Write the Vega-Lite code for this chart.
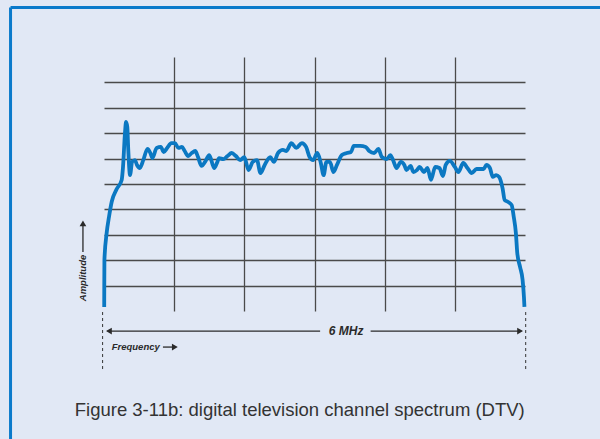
{
  "$schema": "https://vega.github.io/schema/vega-lite/v6.json",
  "autosize": "none",
  "width": 421,
  "height": 254,
  "padding": {"left": 104, "top": 57, "right": 75, "bottom": 128},
  "background": "#e1e8f5",
  "config": {"view": {"stroke": null}, "font": "Liberation Sans"},
  "encoding": {
    "x": {"field": "f", "type": "quantitative", "scale": {"domain": [0, 6], "nice": false, "zero": false},
      "axis": {"values": [1, 2, 3, 4, 5], "grid": true, "gridColor": "#4a4a4a", "gridWidth": 1.3, "labels": false, "ticks": false, "domain": false, "title": null}},
    "y": {"field": "a", "type": "quantitative", "scale": {"domain": [0, 10], "nice": false, "zero": false},
      "axis": {"values": [1, 2, 3, 4, 5, 6, 7, 8, 9], "grid": true, "gridColor": "#4a4a4a", "gridWidth": 1.3, "labels": false, "ticks": false, "domain": false, "title": null}}
  },
  "layer": [
    {
      "data": {"values": [
        {"f": 0.003, "a": 0.16}, {"f": 0.004, "a": 1.02}, {"f": 0.006, "a": 2.01},
        {"f": 0.038, "a": 3.07}, {"f": 0.071, "a": 3.70}, {"f": 0.110, "a": 4.30},
        {"f": 0.181, "a": 4.80}, {"f": 0.252, "a": 5.16}, {"f": 0.271, "a": 5.67},
        {"f": 0.299, "a": 7.01}, {"f": 0.314, "a": 7.44}, {"f": 0.332, "a": 7.24},
        {"f": 0.346, "a": 6.34}, {"f": 0.371, "a": 5.35}, {"f": 0.40, "a": 5.87},
        {"f": 0.44, "a": 5.94}, {"f": 0.47, "a": 5.75}, {"f": 0.51, "a": 5.63},
        {"f": 0.56, "a": 5.94}, {"f": 0.62, "a": 6.38}, {"f": 0.66, "a": 6.22},
        {"f": 0.69, "a": 6.02}, {"f": 0.75, "a": 6.42}, {"f": 0.81, "a": 6.46},
        {"f": 0.85, "a": 6.26}, {"f": 0.90, "a": 6.42}, {"f": 0.96, "a": 6.61},
        {"f": 1.01, "a": 6.61}, {"f": 1.06, "a": 6.42}, {"f": 1.11, "a": 6.46},
        {"f": 1.15, "a": 6.30}, {"f": 1.20, "a": 6.10}, {"f": 1.25, "a": 6.22},
        {"f": 1.30, "a": 6.30}, {"f": 1.34, "a": 6.06}, {"f": 1.39, "a": 5.71},
        {"f": 1.44, "a": 5.87}, {"f": 1.50, "a": 6.14}, {"f": 1.57, "a": 5.63},
        {"f": 1.61, "a": 5.83}, {"f": 1.64, "a": 6.02}, {"f": 1.70, "a": 5.98},
        {"f": 1.76, "a": 6.10}, {"f": 1.82, "a": 6.22}, {"f": 1.88, "a": 6.10},
        {"f": 1.94, "a": 5.94}, {"f": 2.00, "a": 6.06}, {"f": 2.06, "a": 5.55},
        {"f": 2.12, "a": 5.87}, {"f": 2.18, "a": 5.94}, {"f": 2.23, "a": 5.43},
        {"f": 2.29, "a": 5.75}, {"f": 2.37, "a": 6.06}, {"f": 2.42, "a": 5.87},
        {"f": 2.48, "a": 6.22}, {"f": 2.55, "a": 6.34}, {"f": 2.60, "a": 6.30},
        {"f": 2.67, "a": 6.61}, {"f": 2.74, "a": 6.42}, {"f": 2.82, "a": 6.61},
        {"f": 2.88, "a": 6.46}, {"f": 2.93, "a": 6.06}, {"f": 2.98, "a": 5.94},
        {"f": 3.04, "a": 6.22}, {"f": 3.09, "a": 5.83}, {"f": 3.13, "a": 5.35},
        {"f": 3.17, "a": 5.87}, {"f": 3.22, "a": 5.87}, {"f": 3.27, "a": 5.47},
        {"f": 3.32, "a": 5.75}, {"f": 3.39, "a": 6.14}, {"f": 3.46, "a": 6.22},
        {"f": 3.52, "a": 6.26}, {"f": 3.56, "a": 6.50}, {"f": 3.65, "a": 6.50},
        {"f": 3.73, "a": 6.46}, {"f": 3.78, "a": 6.30}, {"f": 3.85, "a": 6.22},
        {"f": 3.91, "a": 6.38}, {"f": 3.96, "a": 6.06}, {"f": 4.03, "a": 5.98},
        {"f": 4.08, "a": 6.14}, {"f": 4.12, "a": 5.94}, {"f": 4.17, "a": 5.63},
        {"f": 4.23, "a": 5.87}, {"f": 4.28, "a": 5.75}, {"f": 4.31, "a": 5.55},
        {"f": 4.37, "a": 5.71}, {"f": 4.41, "a": 5.47}, {"f": 4.46, "a": 5.55},
        {"f": 4.50, "a": 5.67}, {"f": 4.56, "a": 5.47}, {"f": 4.61, "a": 5.63},
        {"f": 4.66, "a": 5.16}, {"f": 4.72, "a": 5.67}, {"f": 4.78, "a": 5.63},
        {"f": 4.83, "a": 5.31}, {"f": 4.87, "a": 5.75}, {"f": 4.93, "a": 5.91},
        {"f": 5.00, "a": 5.67}, {"f": 5.05, "a": 5.47}, {"f": 5.12, "a": 5.83},
        {"f": 5.18, "a": 5.63}, {"f": 5.24, "a": 5.43}, {"f": 5.31, "a": 5.59},
        {"f": 5.41, "a": 5.59}, {"f": 5.45, "a": 5.75}, {"f": 5.50, "a": 5.63},
        {"f": 5.54, "a": 5.28}, {"f": 5.59, "a": 5.35}, {"f": 5.63, "a": 5.28},
        {"f": 5.68, "a": 4.84}, {"f": 5.71, "a": 4.37}, {"f": 5.76, "a": 4.29},
        {"f": 5.81, "a": 4.17}, {"f": 5.84, "a": 3.70}, {"f": 5.87, "a": 3.07},
        {"f": 5.89, "a": 2.28}, {"f": 5.93, "a": 1.73}, {"f": 5.966, "a": 1.22},
        {"f": 5.985, "a": 0.55}, {"f": 5.992, "a": 0.16}
      ]},
      "mark": {"type": "line", "interpolate": "monotone", "color": "#0b78c2", "strokeWidth": 3.8, "strokeJoin": "round", "strokeCap": "butt"}
    },
    {
      "data": {"values": [
        {"f": -1.332, "a": 11.95, "f2": 7.2, "a2": 11.95},
        {"f": -1.332, "a": 11.95, "f2": -1.332, "a2": -5.5}
      ]},
      "mark": {"type": "rule", "color": "#0a7acb", "strokeWidth": 3},
      "encoding": {"x2": {"field": "f2"}, "y2": {"field": "a2"}}
    },
    {
      "data": {"values": [
        {"f": -0.02, "a": -0.04, "f2": -0.02, "a2": -2.4},
        {"f": 6.01, "a": -0.04, "f2": 6.01, "a2": -2.4}
      ]},
      "mark": {"type": "rule", "color": "#333333", "strokeWidth": 1, "strokeDash": [3, 3]},
      "encoding": {"x2": {"field": "f2"}, "y2": {"field": "a2"}}
    },
    {
      "data": {"values": [
        {"f": 0.05, "a": -0.79, "f2": 3.08, "a2": -0.79},
        {"f": 3.80, "a": -0.79, "f2": 5.95, "a2": -0.79},
        {"f": -0.30, "a": 2.32, "f2": -0.30, "a2": 3.40},
        {"f": 0.84, "a": -1.42, "f2": 1.0, "a2": -1.42}
      ]},
      "mark": {"type": "rule", "color": "#2a2a2a", "strokeWidth": 1.3},
      "encoding": {"x2": {"field": "f2"}, "y2": {"field": "a2"}}
    },
    {
      "data": {"values": [
        {"f": 0.07, "a": -0.79, "s": "triangle-left"},
        {"f": 5.93, "a": -0.79, "s": "triangle-right"},
        {"f": -0.30, "a": 3.45, "s": "triangle-up"},
        {"f": 1.01, "a": -1.42, "s": "triangle-right"}
      ]},
      "mark": {"type": "point", "filled": true, "color": "#2a2a2a", "opacity": 1, "size": 45},
      "encoding": {"shape": {"field": "s", "type": "nominal", "scale": null, "legend": null}}
    },
    {
      "data": {"values": [{"f": 3.45, "a": -0.79, "t": "6 MHz"}]},
      "mark": {"type": "text", "fontSize": 12, "fontWeight": "bold", "fontStyle": "italic", "color": "#2a2a2a", "align": "center", "baseline": "middle"},
      "encoding": {"text": {"field": "t"}}
    },
    {
      "data": {"values": [{"f": 0.11, "a": -1.42, "t": "Frequency"}]},
      "mark": {"type": "text", "fontSize": 9.5, "fontWeight": "bold", "fontStyle": "italic", "color": "#2a2a2a", "align": "left", "baseline": "middle"},
      "encoding": {"text": {"field": "t"}}
    },
    {
      "data": {"values": [{"f": -0.30, "a": 1.30, "t": "Amplitude"}]},
      "mark": {"type": "text", "fontSize": 9.5, "fontWeight": "bold", "fontStyle": "italic", "color": "#2a2a2a", "align": "center", "baseline": "middle", "angle": 270},
      "encoding": {"text": {"field": "t"}}
    },
    {
      "data": {"values": [{"f": 2.79, "a": -3.90, "t": "Figure 3-11b: digital television channel spectrum (DTV)"}]},
      "mark": {"type": "text", "fontSize": 18.5, "color": "#333333", "align": "center", "baseline": "middle"},
      "encoding": {"text": {"field": "t"}}
    }
  ]
}
